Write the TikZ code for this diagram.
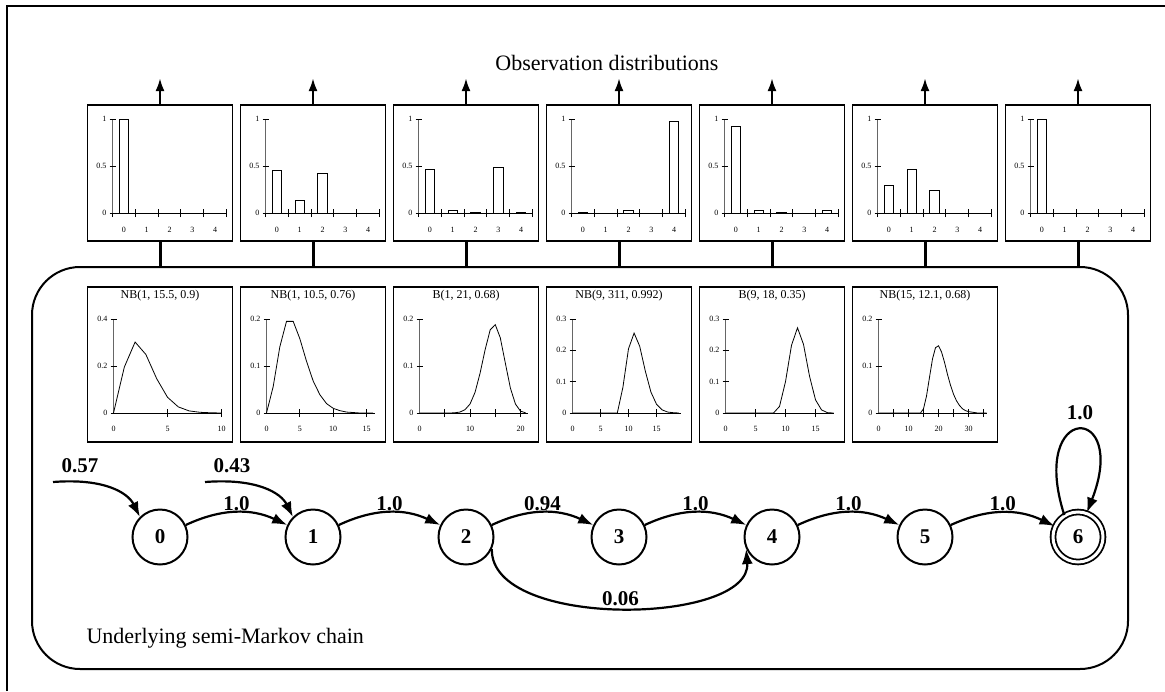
\documentclass[tikz,border=0pt]{standalone}
\usepackage{fontspec}
\setmainfont{Liberation Serif}
\usetikzlibrary{arrows.meta}
\begin{document}
\begin{tikzpicture}[x=1pt,y=-1pt,
  frame/.style={line width=2.2pt},
  histframe/.style={draw, line width=1.2pt, minimum width=145pt, minimum height=136pt, inner sep=0pt},
  durframe/.style={draw, line width=1.4pt, minimum width=145pt, minimum height=155pt, inner sep=0pt},
  toparrow/.style={line width=2.4pt, -{Latex[length=13pt,width=9pt]}},
  conn/.style={line width=3pt},
  state/.style={circle, draw, line width=2pt, minimum size=55pt, inner sep=0pt, font=\fontsize{21}{21}\selectfont\bfseries},
  edge/.style={line width=2.2pt, -{Latex[length=15pt,width=11pt]}},
  elabel/.style={font=\fontsize{21}{21}\selectfont\bfseries, inner sep=1pt},
  axisline/.style={line width=0.9pt},
  yaxis/.style={line width=1.1pt, black!60},
  bar/.style={draw, line width=0.8pt, fill=white},
  ticklab/.style={font=\fontsize{8}{8}\selectfont, inner sep=1pt},
  durtitle/.style={font=\fontsize{12}{12}\selectfont, inner sep=1pt},
  curve/.style={line width=0.8pt, mark=o, mark size=1.2pt, mark options={black!40, line width=0.5pt}},
  bigtext/.style={font=\fontsize{22}{22}\selectfont}
]
\useasboundingbox (0,0) rectangle (1165,691);
\draw[frame] (7,691) -- (7,6) -- (1165,6);

\node[bigtext] (title) at (607,63) {Observation distributions};

% underlying chain frame
\node[draw, line width=2pt, rounded corners=48pt, minimum width=1096pt, minimum height=402pt, inner sep=0pt] (chainbox) at (580,468) {};

\newcommand{\histbox}[3]{%
  \node[histframe] (hb#1) at (#2,173) {};
  \coordinate (ht#1) at (#2,78);
  \draw[toparrow] (hb#1.north) -- (ht#1);
  \draw[conn] (hb#1.south) -- (hb#1.south |- chainbox.north);
  \begin{scope}[shift={(#2-47.5,213)}, x=22.8pt, y=94pt]
    \foreach \k/\v in {#3} \draw[bar] (\k+0.29,0) rectangle (\k+0.71,\v);
    \draw[axisline] (0,0) -- (5,0);
    \foreach \k in {0,...,5} \draw[axisline] (\k,0) ++(0pt,-4pt) -- ++(0pt,8pt);
    \draw[yaxis] (0,0) -- (0,1);
    \foreach \t [count=\i] in {0,0.5,1} {\draw[axisline] (0,\t) ++(-3pt,0pt) -- ++(6pt,0pt);
      \node[ticklab, anchor=east] (hy#1-\i) at ([xshift=-5pt]0,\t) {\t};}
    \foreach \k in {0,...,4} \node[ticklab] (hx#1-\k) at ([yshift=-17pt]\k+0.5,0) {\k};
  \end{scope}
}

\newcommand{\durbox}[9]{%
  \node[durframe] (db#1) at (#2,364.5) {};
  \node[durtitle] (dt#1) at (#2,296) {#3};
  \begin{scope}[shift={(#2-46.5,413)}, x=#4pt, y=#5pt]
    \draw[yaxis] (0,0) -- ++(0pt,94pt);
    \draw[axisline] (0,0) -- ++(108pt,0pt);
    \foreach \t [count=\i] in {#6} {\draw[axisline] (0,\t) ++(-3pt,0pt) -- ++(6pt,0pt);
      \node[ticklab,anchor=east] (dy#1-\i) at ([xshift=-5pt]0,\t) {\t};}
    \foreach \t in {#8} \draw[axisline] (\t,0) ++(0pt,-4pt) -- ++(0pt,8pt);
    \foreach \t [count=\i] in {#7} \node[ticklab] (dx#1-\i) at ([yshift=-16pt]\t,0) {\t};
    \draw[curve] plot coordinates {#9};
  \end{scope}
}

\histbox{0}{160}{0/1}
\histbox{1}{313}{0/0.45,1/0.13,2/0.42}
\histbox{2}{466}{0/0.46,1/0.03,2/0.01,3/0.49,4/0.01}
\histbox{3}{619}{0/0.01,2/0.03,4/0.97}
\histbox{4}{772}{0/0.92,1/0.03,2/0.01,4/0.03}
\histbox{5}{925}{0/0.29,1/0.46,2/0.24}
\histbox{6}{1078}{0/1}

\durbox{0}{160}{NB(1, 15.5, 0.9)}{10.8}{235}{0,0.2,0.4}{0,5,10}{5,10}
  {(0,0) (1,0.195) (2,0.302) (3,0.249) (4,0.146) (5,0.067) (6,0.026) (7,0.009) (8,0.003) (9,0.001) (10,0)}
\durbox{1}{313}{NB(1, 10.5, 0.76)}{6.67}{470}{0,0.1,0.2}{0,5,10,15}{5,10,15}
  {(0,0) (1,0.056) (2,0.141) (3,0.195) (4,0.195) (5,0.158) (6,0.110) (7,0.068) (8,0.039) (9,0.020) (10,0.010) (11,0.005) (12,0.002) (13,0.001) (14,0) (15,0) (16,0)}
\durbox{2}{466}{B(1, 21, 0.68)}{5.05}{470}{0,0.1,0.2}{0,10,20}{5,10,15,20}
  {(0,0) (1,0) (2,0) (3,0) (4,0) (5,0) (6,0) (7,0.0005) (8,0.002) (9,0.007) (10,0.019) (11,0.044) (12,0.085) (13,0.135) (14,0.177) (15,0.188) (16,0.160) (17,0.106) (18,0.053) (19,0.019) (20,0.004) (21,0.0005)}
\durbox{3}{619}{NB(9, 311, 0.992)}{5.6}{313.33}{0,0.1,0.2,0.3}{0,5,10,15}{5,10,15}
  {(0,0) (1,0) (2,0) (3,0) (4,0) (5,0) (6,0) (7,0) (8,0) (9,0.082) (10,0.205) (11,0.255) (12,0.213) (13,0.134) (14,0.067) (15,0.028) (16,0.010) (17,0.003) (18,0.001) (19,0)}
\durbox{4}{772}{B(9, 18, 0.35)}{6.0}{313.33}{0,0.1,0.2,0.3}{0,5,10,15}{5,10,15}
  {(0,0) (1,0) (2,0) (3,0) (4,0) (5,0) (6,0) (7,0) (8,0) (9,0.021) (10,0.100) (11,0.216) (12,0.272) (13,0.219) (14,0.118) (15,0.042) (16,0.010) (17,0.001) (18,0)}
\durbox{5}{925}{NB(15, 12.1, 0.68)}{3.0}{470}{0,0.1,0.2}{0,10,20,30}{5,10,15,20,25,30,35}
  {(0,0) (1,0) (2,0) (3,0) (4,0) (5,0) (6,0) (7,0) (8,0) (9,0) (10,0) (11,0) (12,0) (13,0) (14,0) (15,0.009) (16,0.036) (17,0.076) (18,0.115) (19,0.139) (20,0.143) (21,0.130) (22,0.108) (23,0.082) (24,0.059) (25,0.040) (26,0.026) (27,0.016) (28,0.009) (29,0.005) (30,0.003) (31,0.002) (32,0.001) (33,0) (34,0) (35,0) (36,0)}

% states
\node[state] (n0) at (160,537) {0};
\node[state] (n1) at (313,537) {1};
\node[state] (n2) at (466,537) {2};
\node[state] (n3) at (619,537) {3};
\node[state] (n4) at (772,537) {4};
\node[state] (n5) at (925,537) {5};
\node[state, minimum size=50pt, line width=1.8pt, double, double distance=3pt] (n6) at (1078,537) {6};

% initial probabilities
\coordinate (s0) at (53,482);
\coordinate (s1) at (205,482);
\draw[edge] (s0) .. controls (105,478) and (128,493) .. (n0.135);
\draw[edge] (s1) .. controls (257,478) and (281,493) .. (n1.135);
\node[elabel] (l0) at (80,466) {0.57};
\node[elabel] (l1) at (232,466) {0.43};

% transitions
\draw[edge] (n0) to[bend left=25] node[elabel, above] (l01) {1.0} (n1);
\draw[edge] (n1) to[bend left=25] node[elabel, above] (l12) {1.0} (n2);
\draw[edge] (n2) to[bend left=25] node[elabel, above] (l23) {0.94} (n3);
\draw[edge] (n3) to[bend left=25] node[elabel, above] (l34) {1.0} (n4);
\draw[edge] (n4) to[bend left=25] node[elabel, above] (l45) {1.0} (n5);
\draw[edge] (n5) to[bend left=25] node[elabel, above] (l56) {1.0} (n6);
\draw[edge] (n2.-25) .. controls (490,630) and (752,625) .. (n4.-155) node[elabel, pos=0.5, above] (l24) {0.06};
\draw[edge] (n6.122) .. controls (1028,402) and (1130,402) .. (n6.70);
\node[elabel] (l66) at (1080,413) {1.0};

\node[bigtext, anchor=west] (cap) at (83,638) {Underlying semi-Markov chain};
\end{tikzpicture}
\end{document}
